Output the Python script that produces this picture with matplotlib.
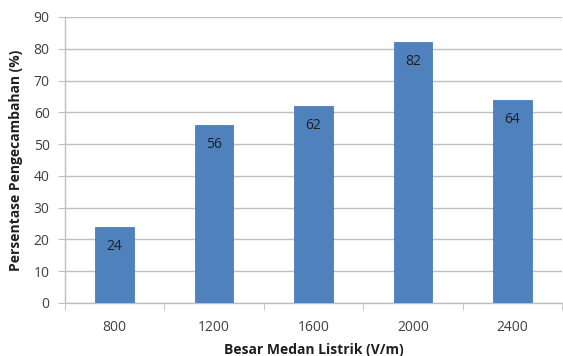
import matplotlib
matplotlib.use("Agg")
import matplotlib.pyplot as plt
import numpy as np

categories = ["800", "1200", "1600", "2000", "2400"]
values = [24, 56, 62, 82, 64]

bar_color = "#4F81BD"
text_color = "#404040"
grid_color = "#BFBFBF"

plt.rcParams['font.family'] = ['Open Sans', 'DejaVu Sans']

fig = plt.figure(figsize=(5.63, 3.56), dpi=100)
ax = fig.add_axes([65 / 563, 1 - 303 / 356, 497 / 563, 286 / 356])

x = np.arange(len(categories))
bars = ax.bar(x, values, width=0.39, color=bar_color, edgecolor="#4A7EBB", linewidth=0.6, zorder=3)

for xi, v in zip(x, values):
    ax.annotate(str(v), (xi, v), xytext=(0, -14), textcoords="offset points",
                ha="center", va="center", fontsize=10, color="#1F1F1F", zorder=4)

ax.set_xlim(-0.5, len(categories) - 0.5)
ax.set_ylim(0, 90)
ax.set_yticks(range(0, 91, 10))
ax.set_xticks(x)
ax.set_xticklabels(categories)
ax.set_xticks(np.arange(-0.5, len(categories), 1.0), minor=True)

ax.grid(axis="y", color=grid_color, linewidth=1.0, zorder=0)
for s in ["top", "right"]:
    ax.spines[s].set_visible(False)
for s in ["left", "bottom"]:
    ax.spines[s].set_color(grid_color)
    ax.spines[s].set_linewidth(1.0)

ax.tick_params(axis="y", which="major", length=5, color=grid_color, labelsize=10, labelcolor=text_color, pad=6)
ax.tick_params(axis="x", which="major", length=0, labelsize=10, labelcolor=text_color, pad=12)
ax.tick_params(axis="x", which="minor", length=5, color=grid_color)

ax.set_xlabel("Besar Medan Listrik (V/m)", fontsize=10, fontweight="bold", color="#1F1F1F", labelpad=6)
ax.set_ylabel("Persentase Pengecambahan (%)", fontsize=10, fontweight="bold", color="#1F1F1F", labelpad=8)

fig.savefig("out.png", dpi=100)
